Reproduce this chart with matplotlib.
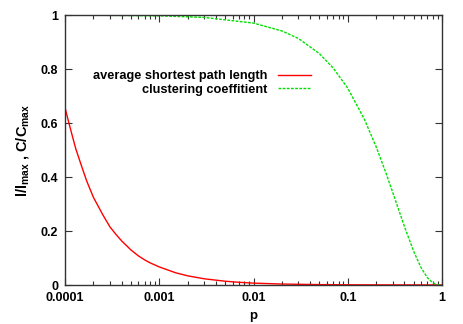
import numpy as np
import matplotlib
matplotlib.use('Agg')
import matplotlib.pyplot as plt
from matplotlib.ticker import LogLocator, FixedLocator, NullFormatter

plt.rcParams['font.family'] = ['Liberation Sans', 'DejaVu Sans']
plt.rcParams['font.weight'] = 'bold'
plt.rcParams['mathtext.fontset'] = 'custom'
plt.rcParams['mathtext.rm'] = 'Liberation Sans:bold'
plt.rcParams['mathtext.it'] = 'Liberation Sans:bold'
plt.rcParams['mathtext.bf'] = 'Liberation Sans:bold'

# vrijednosti ocitane sa slike
p_path = [1e-4, 1.1e-4, 1.2e-4, 1.3e-4, 1.5e-4, 1.7e-4, 2e-4, 2.5e-4, 3e-4, 3.5e-4,
          4e-4, 5e-4, 6e-4, 7e-4, 8e-4, 1e-3, 1.5e-3, 2e-3, 3e-3, 5e-3, 7e-3,
          1e-2, 2e-2, 5e-2, 0.1, 0.2, 0.5, 1.0]
l_path = [0.657, 0.60, 0.55, 0.505, 0.44, 0.385, 0.325, 0.262, 0.215, 0.186,
          0.163, 0.13, 0.108, 0.093, 0.082, 0.067, 0.045, 0.034, 0.023, 0.014, 0.01,
          0.007, 0.0035, 0.0015, 0.0008, 0.0005, 0.0003, 0.0002]

p_clust = [1e-4, 1e-3, 3e-3, 0.01, 0.02, 0.03, 0.05, 0.07, 0.1, 0.15, 0.2,
           0.25, 0.3, 0.4, 0.5, 0.6, 0.7, 0.8, 0.9, 1.0]
c_clust = [1.0, 0.997, 0.991, 0.97, 0.941, 0.913, 0.857, 0.804, 0.729, 0.614, 0.512,
           0.422, 0.343, 0.216, 0.125, 0.064, 0.027, 0.008, 0.001, 0.0]

x_ticks = [1e-4, 1e-3, 1e-2, 1e-1, 1]
x_labels = ['0.0001', '0.001', '0.01', '0.1', '1']
y_ticks = [0, 0.2, 0.4, 0.6, 0.8, 1]
y_labels = ['0', '0.2', '0.4', '0.6', '0.8', '1']

fig = plt.figure(figsize=(4.63, 3.24), dpi=100)
ax = fig.add_axes([65 / 463, 1 - 285 / 324, 377 / 463, 270 / 324])

ax.plot(p_path, l_path, color='#ff0000', lw=1.0, label='average shortest path length')
ax.plot(p_clust, c_clust, color='#00e000', lw=1.0, dashes=(2, 1),
        label='clustering coeffitient')

ax.set_xscale('log')
ax.set_xlim(1e-4, 1)
ax.set_ylim(0, 1)
ax.xaxis.set_major_locator(FixedLocator(x_ticks))
ax.set_xticklabels(x_labels)
ax.xaxis.set_minor_locator(LogLocator(base=10, subs=np.arange(2, 10)))
ax.xaxis.set_minor_formatter(NullFormatter())
ax.set_yticks(y_ticks)
ax.set_yticklabels(y_labels)

ax.tick_params(which='both', direction='in', top=True, right=True,
               labelsize=9, width=0.8, color='#333333')
ax.tick_params(which='major', length=5)
ax.tick_params(which='minor', length=3)
ax.tick_params(axis='x', pad=5)
ax.tick_params(axis='y', pad=5)
for s in ax.spines.values():
    s.set_linewidth(1.0)
    s.set_color('#333333')

ax.set_xlabel('p', fontsize=9.5, fontweight='bold', labelpad=4)
ax.set_ylabel(r'l/l$_{max}$ , C/C$_{max}$', fontsize=10.5, fontweight='bold', labelpad=7)

leg = ax.legend(loc='upper right', bbox_to_anchor=(311 / 463, 1 - 70 / 324),
                bbox_transform=fig.transFigure, frameon=False, fontsize=9.2,
                markerfirst=False, handlelength=2.6, handletextpad=0.8,
                labelspacing=0.15, borderaxespad=0, borderpad=0)
for t in leg.get_texts():
    t.set_ha('right')
leg._legend_box.align = 'right'

fig.savefig('out.png', dpi=100)
